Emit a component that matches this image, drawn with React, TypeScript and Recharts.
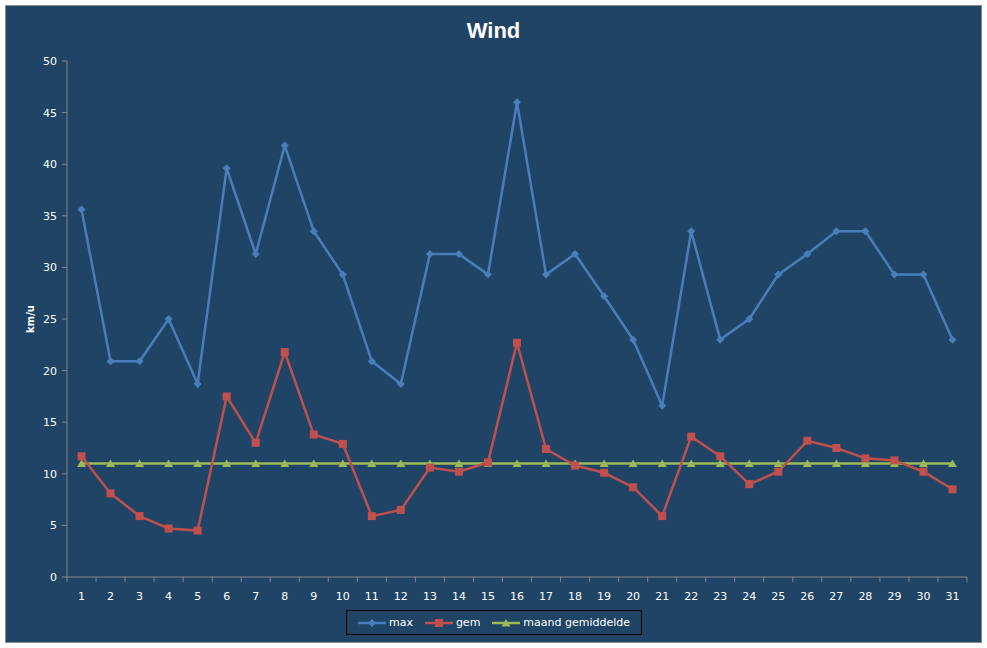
import React from 'react';
import { LineChart, Line, XAxis, YAxis } from 'recharts';

const days = Array.from({ length: 31 }, (_, i) => String(i + 1));
const maxWind = [35.6, 20.9, 20.9, 25.0, 18.7, 39.6, 31.3, 41.8, 33.5, 29.3, 20.9, 18.7, 31.3, 31.3, 29.3, 46.0,
    29.3, 31.3, 27.2, 23.0, 16.6, 33.5, 23.0, 25.0, 29.3, 31.3, 33.5, 33.5, 29.3, 29.3, 23.0];
const gemWind = [11.7, 8.1, 5.9, 4.7, 4.5, 17.5, 13.0, 21.8, 13.8, 12.9, 5.9, 6.5, 10.6, 10.2, 11.1, 22.7,
    12.4, 10.8, 10.1, 8.7, 5.9, 13.6, 11.7, 9.0, 10.2, 13.2, 12.5, 11.5, 11.3, 10.2, 8.5];
const maandGem = Array.from({ length: 31 }, () => 11.0);
const yTicks = [0, 5, 10, 15, 20, 25, 30, 35, 40, 45, 50];

const data = days.map((day, i) => ({ day, max: maxWind[i], gem: gemWind[i], avg: maandGem[i] }));

const BG = '#1F4466';
const AXIS = '#868686';
const BLUE = '#4A7EBB';
const RED = '#C0504D';
const GREEN = '#9BBB59';
const FONT = '"DejaVu Sans", Verdana, sans-serif';

const CHART_W = 975;
const CHART_H = 636;
const PLOT_W = 900;
const BAND = PLOT_W / days.length;

const Diamond = (props: any) => {
    const { cx, cy, index } = props;
    return <path key={`dm-${index}`} d={`M${cx},${cy - 4}L${cx + 4},${cy}L${cx},${cy + 4}L${cx - 4},${cy}Z`} fill={BLUE} />;
};

const Square = (props: any) => {
    const { cx, cy, index } = props;
    return <rect key={`sq-${index}`} x={cx - 4} y={cy - 4} width={8} height={8} fill={RED} />;
};

const Triangle = (props: any) => {
    const { cx, cy, index } = props;
    return <path key={`tr-${index}`} d={`M${cx},${cy - 4}L${cx + 4.5},${cy + 3.5}L${cx - 4.5},${cy + 3.5}Z`} fill={GREEN} />;
};

const XTick = (props: any) => {
    const { x, y, payload, index } = props;
    const last = index === days.length - 1;
    return (
        <g>
            <line x1={x - BAND / 2} y1={y} x2={x - BAND / 2} y2={y + 5} stroke={AXIS} />
            {last && <line x1={x + BAND / 2} y1={y} x2={x + BAND / 2} y2={y + 5} stroke={AXIS} />}
            <text x={x} y={y + 23} textAnchor="middle" fill="#ffffff" fontSize={11} fontFamily={FONT}>
                {payload.value}
            </text>
        </g>
    );
};

const legendItems = [
    { name: 'max', color: BLUE, shape: 'diamond' },
    { name: 'gem', color: RED, shape: 'square' },
    { name: 'maand gemiddelde', color: GREEN, shape: 'triangle' },
];

const LegendMarker = ({ color, shape }: { color: string; shape: string }) => (
    <svg width={28} height={10} style={{ marginRight: 3 }}>
        <line x1={0} y1={5} x2={28} y2={5} stroke={color} strokeWidth={2.5} />
        {shape === 'diamond' && <path d="M14,1L18,5L14,9L10,5Z" fill={color} />}
        {shape === 'square' && <rect x={10} y={1} width={8} height={8} fill={color} />}
        {shape === 'triangle' && <path d="M14,1L18.5,8.5L9.5,8.5Z" fill={color} />}
    </svg>
);

export default function App() {
    return (
        <div
            style={{
                position: 'absolute',
                left: 5,
                top: 5,
                width: CHART_W,
                height: CHART_H,
                border: '1px solid #8A8A8A',
                background: BG,
                fontFamily: FONT,
            }}
        >
            <div
                style={{
                    position: 'absolute',
                    top: 12,
                    left: 0,
                    width: '100%',
                    textAlign: 'center',
                    color: '#ffffff',
                    fontFamily: '"Liberation Sans", Arial, sans-serif',
                    fontWeight: 'bold',
                    fontSize: 22,
                }}
            >
                Wind
            </div>
            <LineChart width={CHART_W} height={CHART_H} data={data} margin={{ top: 55, right: 14, bottom: 35, left: 21 }}>
                <XAxis
                    dataKey="day"
                    interval={0}
                    height={30}
                    padding={{ left: BAND / 2, right: BAND / 2 }}
                    stroke={AXIS}
                    tickLine={false}
                    tickSize={0}
                    tickMargin={0}
                    tick={<XTick />}
                />
                <YAxis
                    width={40}
                    domain={[0, 50]}
                    ticks={yTicks}
                    interval={0}
                    stroke={AXIS}
                    tickSize={5}
                    tickMargin={5}
                    tick={{ fill: '#ffffff', fontSize: 11, fontFamily: FONT }}
                    label={{
                        content: (p: any) => {
                            const vb = p.viewBox;
                            const cx = vb.x + 3;
                            const cy = vb.y + vb.height / 2;
                            return (
                                <text
                                    x={cx}
                                    y={cy}
                                    transform={`rotate(-90 ${cx} ${cy})`}
                                    textAnchor="middle"
                                    dominantBaseline="central"
                                    fill="#ffffff"
                                    fontSize={10}
                                    fontWeight="bold"
                                    fontFamily={FONT}
                                >
                                    km/u
                                </text>
                            );
                        },
                    }}
                />
                <Line dataKey="avg" stroke={GREEN} strokeWidth={2.5} dot={Triangle} isAnimationActive={false} />
                <Line dataKey="gem" stroke={RED} strokeWidth={2.5} dot={Square} isAnimationActive={false} />
                <Line dataKey="max" stroke={BLUE} strokeWidth={2.5} dot={Diamond} isAnimationActive={false} />
            </LineChart>
            <div
                style={{
                    position: 'absolute',
                    left: 340,
                    top: 604,
                    width: 294,
                    height: 23,
                    border: '1px solid #000000',
                    display: 'flex',
                    alignItems: 'center',
                    justifyContent: 'center',
                    color: '#ffffff',
                    fontSize: 11,
                }}
            >
                {legendItems.map((it) => (
                    <div key={it.name} style={{ display: 'flex', alignItems: 'center', margin: '0 6px' }}>
                        <LegendMarker color={it.color} shape={it.shape} />
                        <span>{it.name}</span>
                    </div>
                ))}
            </div>
        </div>
    );
}
